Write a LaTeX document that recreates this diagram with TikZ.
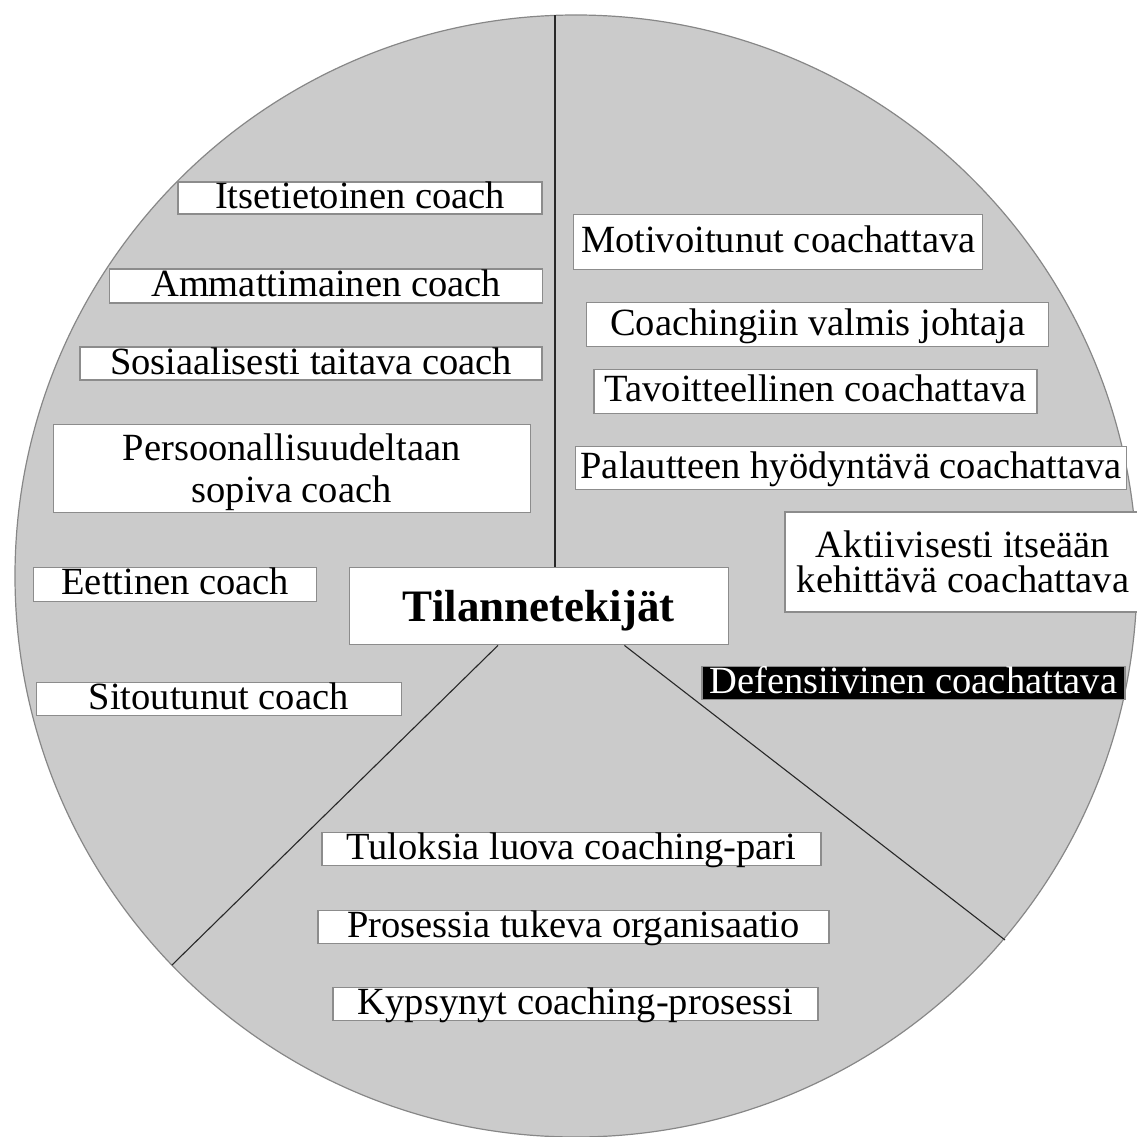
\documentclass[tikz,border=0pt]{standalone}
\usepackage{fontspec}
\setmainfont{Liberation Serif}
\usetikzlibrary{calc}

\definecolor{discfill}{RGB}{203,203,203}
\definecolor{discedge}{RGB}{135,135,135}
\definecolor{boxedge}{RGB}{140,140,140}
\definecolor{spokeline}{RGB}{40,40,40}

\tikzset{
  factorbase/.style={draw=boxedge, fill=white, line width=1.2pt, inner sep=0pt,
    align=center, font=\fontsize{38.5}{35}\selectfont},
  factor/.style={factorbase, text height=24pt, text depth=3pt},
  dark/.style={factor, fill=black, text=white},
  centrebox/.style={factorbase, font=\fontsize{45}{47}\selectfont\bfseries,
    text height=33pt, text depth=3.6pt},
  spoke/.style={draw=spokeline, line width=1.1pt},
}

\begin{document}
\begin{tikzpicture}[x=1pt, y=-1pt]
  \useasboundingbox (0,0) rectangle (1137,1137);

  % the disc
  \draw[fill=discfill, draw=discedge, line width=1.2pt] (576,576) circle[radius=561];

  % points on the rim where the dividing lines end
  \coordinate (rimtop) at (555,15.4);
  \coordinate (rimleft) at (172,965);
  \coordinate (rimright) at (1005,940);

  % centre
  \node[centrebox, minimum width=379pt, minimum height=77pt] (tk) at (538.8,606.3) {Tilannetekijät};

  % coach factors (upper left)
  \node[factor, minimum width=364pt, minimum height=32pt] (itse) at (360,198) {Itsetietoinen coach};
  \node[factor, minimum width=433pt, minimum height=34pt] (amm) at (326,286) {Ammattimainen coach};
  \node[factor, minimum width=462pt, minimum height=33pt] (sos) at (311,363.5) {Sosiaalisesti taitava coach};
  \node[factorbase, text depth=0pt, minimum width=477pt, minimum height=88pt] (pers) at (291.7,468.3) {Persoonallisuudeltaan\\[7.4pt]sopiva coach};
  \node[factor, minimum width=283pt, minimum height=34pt] (eet) at (175.3,584.2) {Eettinen coach};
  \node[factor, minimum width=365pt, minimum height=33pt] (sit) at (218.7,698.7) {Sitoutunut coach};

  % coachee factors (right)
  \node[factor, minimum width=409pt, minimum height=55pt] (mot) at (778.3,242.3) {Motivoitunut coachattava};
  \node[factor, minimum width=462pt, minimum height=44pt] (coa) at (817.6,324.7) {Coachingiin valmis johtaja};
  \node[factor, minimum width=443pt, minimum height=44pt] (tav) at (815.5,391.3) {Tavoitteellinen coachattava};
  \node[factor, minimum width=551pt, minimum height=43pt] (pal) at (851,468.3) {Palautteen hyödyntävä coachattava};
  \node[factorbase, minimum width=356pt, minimum height=100pt] (akt) at (963,562) {Aktiivisesti itseään\\kehittävä coachattava};
  \node[dark, minimum width=423pt, minimum height=33pt] (def) at (913.5,683.3) {Defensiivinen coachattava};

  % process factors (bottom)
  \node[factor, minimum width=499pt, minimum height=33pt] (tul) at (571.4,849.2) {Tuloksia luova coaching-pari};
  \node[factor, minimum width=511pt, minimum height=33pt] (pro) at (573.5,926.7) {Prosessia tukeva organisaatio};
  \node[factor, minimum width=485pt, minimum height=33pt] (kyp) at (575.4,1003.7) {Kypsynyt coaching-prosessi};

  % dividing lines
  \draw[spoke] (rimtop) -- (rimtop |- tk.north);
  \draw[spoke] ($(tk.south west)+(149.3,0)$) -- (rimleft);
  \draw[spoke] ($(tk.south west)+(275.7,0)$) -- (rimright);
\end{tikzpicture}
\end{document}
